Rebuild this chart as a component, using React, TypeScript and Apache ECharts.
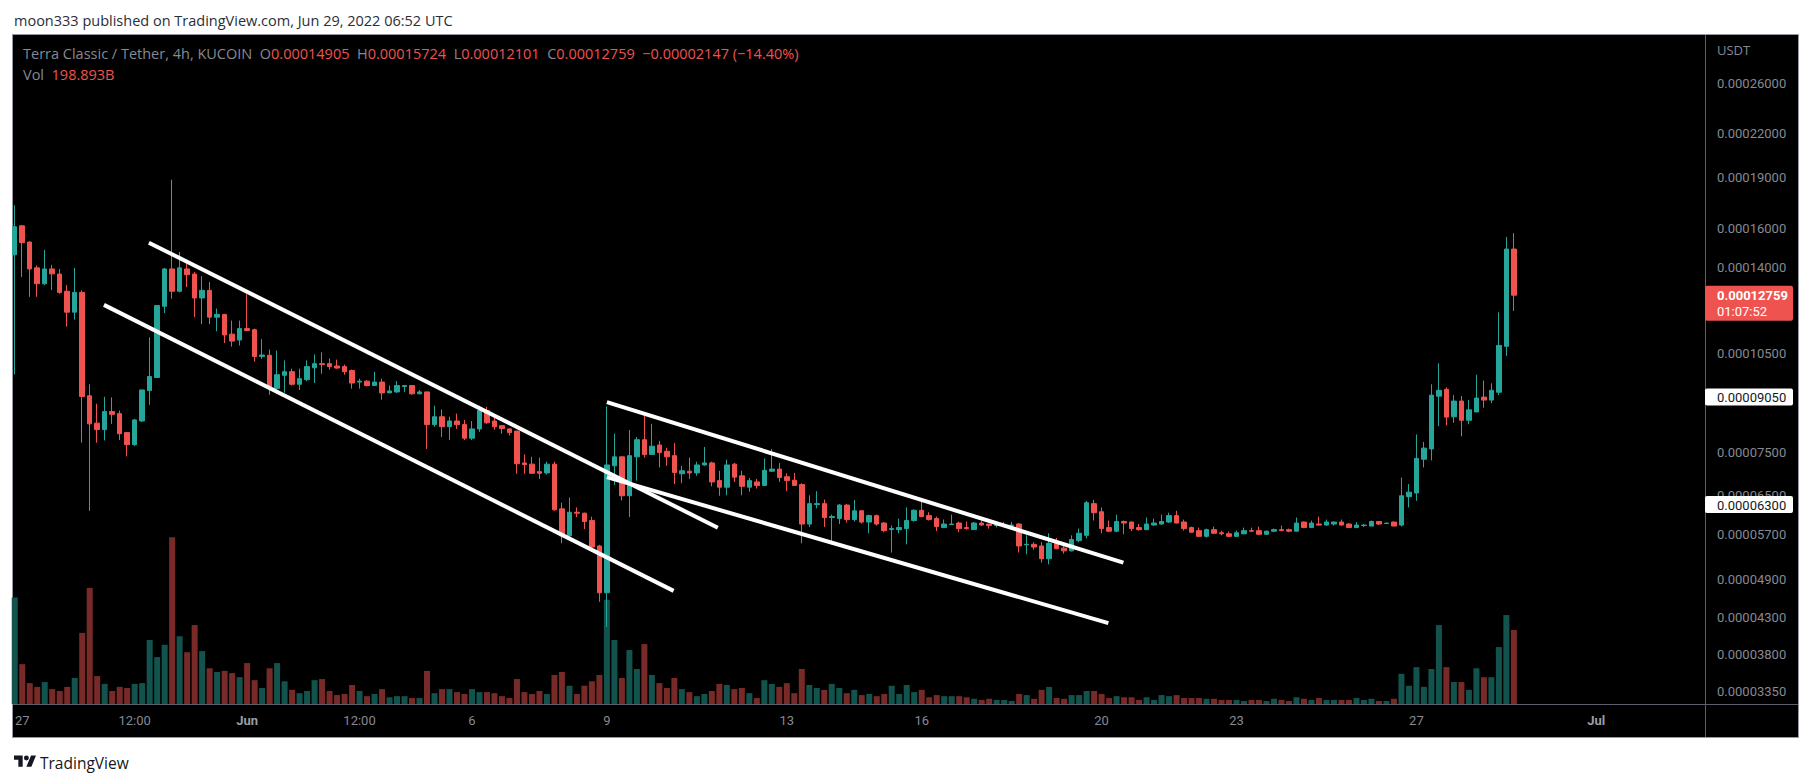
import React, { useEffect, useRef } from "react";
import * as echarts from "echarts";

// Prices are stored in units of 0.00000001 USDT (1e-8).
const PRICE_UNIT = 1e-8;

const OPEN = [
  14620, 16120, 15260, 13990, 13260, 13940, 13700, 12930, 12050, 12880,
  9090, 8290, 8110, 8620, 8560, 8030, 7710, 8350, 9250, 9670,
  12290, 13940, 12930, 13940, 13700, 12640, 12970, 11850, 11960, 11190,
  10970, 11400, 11360, 10380, 10420, 9320, 9740, 9860, 9450, 9600,
  9990, 10130, 10130, 10050, 10030, 9900, 9520, 9550, 9410, 9520,
  9180, 9210, 9380, 9410, 9150, 9210, 8250, 8470, 8190, 8350,
  8250, 7880, 8130, 8650, 8350, 8220, 8130, 8070, 7250, 7220,
  7040, 7010, 7220, 6210, 5670, 6140, 6120, 5970, 5480, 4680,
  7180, 7400, 6490, 7400, 7840, 7460, 7700, 7540, 7430, 6990,
  7050, 7010, 7200, 7250, 6830, 6680, 7220, 6940, 6680, 6800,
  6720, 7050, 7100, 6920, 6840, 6740, 5900, 6300, 6320, 6030,
  6010, 6290, 5990, 6170, 5940, 6070, 5920, 5790, 5790, 5810,
  5970, 6180, 6070, 6010, 5830, 5890, 5920, 5830, 5790, 5920,
  5900, 5870, 5870, 5870, 5900, 5500, 5510, 5480, 5250, 5530,
  5440, 5390, 5580, 5680, 6320, 6150, 5830, 5760, 5950, 5940,
  5830, 5790, 5880, 5900, 5940, 6070, 5940, 5830, 5770, 5660,
  5790, 5730, 5710, 5660, 5710, 5770, 5770, 5700, 5760, 5790,
  5790, 5760, 5940, 5830, 5900, 5880, 5900, 5940, 5900, 5830,
  5870, 5860, 5950, 5910, 5940, 5880, 6470, 6550, 7340, 7600,
  9080, 9290, 8470, 8930, 8370, 8610, 9050, 8960, 9200, 10740,
  14905,
];

const HIGH = [
  17280, 16150, 15300, 14100, 14860, 14130, 13940, 13200, 13990, 12970,
  9450, 8850, 9060, 9040, 8650, 8050, 8410, 9280, 11070, 12330,
  13990, 18830, 14760, 14390, 13800, 13600, 13340, 12200, 11980, 11710,
  11710, 12800, 11400, 11000, 10620, 10590, 10240, 9960, 9960, 10240,
  10450, 10520, 10310, 10270, 10100, 9930, 9630, 9580, 9860, 9630,
  9410, 9550, 9420, 9420, 9270, 9220, 8790, 8680, 8470, 8560,
  8380, 8350, 8790, 8760, 8440, 8230, 8150, 8080, 7460, 7400,
  7380, 7280, 7280, 6340, 6450, 6240, 6130, 6050, 5500, 8770,
  8000, 7410, 8100, 7910, 8540, 8270, 7810, 7630, 7750, 7180,
  7380, 7280, 7650, 7280, 7060, 7330, 7250, 7060, 6890, 6870,
  7360, 7600, 7250, 7000, 7010, 6770, 6500, 6590, 6410, 6090,
  6310, 6310, 6400, 6180, 6090, 6090, 5940, 5870, 6010, 6240,
  6200, 6440, 6140, 6050, 5990, 6090, 5950, 5950, 5940, 5970,
  5900, 5950, 5940, 5940, 5920, 5680, 5550, 5550, 5720, 5630,
  5480, 5680, 5810, 6380, 6400, 6240, 5970, 6090, 5970, 5950,
  5900, 6030, 6010, 6090, 6130, 6170, 5990, 5850, 5830, 5810,
  5850, 5770, 5750, 5770, 5830, 5830, 5850, 5770, 5810, 5870,
  5810, 6030, 5950, 5970, 6050, 5990, 5950, 5990, 5920, 5940,
  5900, 5970, 5960, 5920, 5950, 6900, 6750, 7980, 7780, 9450,
  10140, 9350, 9110, 9080, 8960, 9760, 9570, 9480, 12040, 15520,
  15724,
];

const LOW = [
  9770, 13570, 12690, 12690, 13200, 12980, 12820, 11480, 11750, 7760,
  6170, 7760, 7820, 8270, 7830, 7410, 7670, 8320, 8820, 9660,
  12010, 12610, 12880, 13110, 11850, 11570, 11570, 11300, 10860, 10730,
  10770, 11300, 10200, 10290, 9120, 9150, 9190, 9410, 9270, 9550,
  9490, 9790, 9930, 9960, 9760, 9310, 9310, 9380, 9400, 8970,
  9170, 9180, 9210, 9120, 9140, 7600, 8190, 7910, 7830, 8130,
  7830, 7830, 8050, 8270, 8110, 8000, 7950, 6990, 6990, 6990,
  6870, 6970, 6170, 5530, 5630, 6040, 5800, 5370, 4540, 4170,
  6730, 6390, 6040, 6830, 7380, 7450, 7140, 7180, 6750, 6770,
  6870, 6940, 7180, 6700, 6490, 6500, 6800, 6500, 6580, 6650,
  6710, 7030, 6800, 6590, 6710, 5530, 5840, 6220, 5840, 5510,
  5900, 5930, 5950, 5910, 5720, 5870, 5740, 5360, 5720, 5510,
  5950, 6040, 5970, 5760, 5820, 5880, 5740, 5790, 5790, 5870,
  5810, 5830, 5850, 5850, 5360, 5330, 5410, 5180, 5150, 5420,
  5340, 5380, 5550, 5620, 5970, 5720, 5740, 5740, 5700, 5760,
  5770, 5790, 5870, 5890, 5920, 5910, 5770, 5730, 5650, 5640,
  5710, 5680, 5650, 5650, 5700, 5740, 5690, 5690, 5740, 5760,
  5740, 5750, 5820, 5820, 5870, 5870, 5870, 5870, 5820, 5820,
  5840, 5860, 5880, 5900, 5860, 5850, 6240, 6380, 7140, 7310,
  8210, 8230, 8300, 7930, 8260, 8600, 8730, 8870, 9110, 10400,
  12101,
];

const CLOSE = [
  16070, 15230, 13940, 13260, 13940, 13710, 12880, 12050, 12880, 9070,
  8270, 8110, 8620, 8540, 8000, 7710, 8380, 9270, 9700, 12320,
  13940, 12930, 13990, 13670, 12640, 12970, 11850, 11960, 11160, 10930,
  11400, 11330, 10380, 10430, 9320, 9760, 9860, 9450, 9630, 10030,
  10130, 10100, 10030, 9980, 9860, 9490, 9550, 9410, 9520, 9180,
  9240, 9410, 9410, 9150, 9210, 8250, 8470, 8190, 8350, 8250,
  7880, 8130, 8650, 8300, 8190, 8140, 8030, 7230, 7210, 7000,
  7000, 7220, 6190, 5670, 6140, 6120, 5950, 5460, 4680, 7200,
  7400, 6490, 7430, 7840, 7460, 7670, 7510, 7400, 7020, 7060,
  7010, 7200, 7250, 6800, 6680, 7200, 6910, 6700, 6830, 6720,
  7070, 7100, 6900, 6830, 6720, 5900, 6320, 6320, 6030, 6050,
  6290, 5990, 6170, 5940, 6070, 5900, 5770, 5810, 5830, 5970,
  6180, 6050, 5990, 5850, 5900, 5900, 5810, 5810, 5920, 5880,
  5870, 5880, 5880, 5880, 5480, 5510, 5460, 5250, 5530, 5430,
  5390, 5600, 5720, 6340, 6130, 5810, 5760, 5950, 5920, 5810,
  5790, 5900, 5920, 5950, 6070, 5920, 5810, 5740, 5660, 5790,
  5720, 5710, 5660, 5730, 5770, 5760, 5700, 5760, 5790, 5770,
  5760, 5920, 5830, 5920, 5880, 5940, 5940, 5880, 5830, 5880,
  5880, 5950, 5900, 5920, 5860, 6490, 6570, 7360, 7620, 9110,
  9260, 8460, 8930, 8370, 8670, 9020, 8960, 9260, 10770, 14906,
  12759,
];

// Volume in billions of LUNC
const VOLUME_B = [
  286, 107, 56, 46, 59, 40, 35, 46, 70, 191,
  312, 75, 54, 35, 46, 43, 54, 56, 172, 126,
  159, 448, 182, 139, 212, 142, 96, 86, 89, 83,
  72, 110, 64, 43, 96, 110, 61, 38, 29, 35,
  64, 67, 35, 24, 27, 51, 35, 21, 27, 40,
  18, 21, 21, 16, 16, 89, 29, 40, 40, 32,
  27, 40, 32, 32, 29, 21, 16, 67, 32, 27,
  35, 27, 78, 86, 49, 27, 49, 61, 78, 280,
  172, 70, 145, 94, 161, 78, 56, 43, 70, 40,
  32, 21, 27, 35, 54, 51, 40, 43, 29, 16,
  64, 54, 46, 56, 29, 94, 51, 43, 38, 54,
  43, 29, 38, 24, 27, 21, 27, 49, 27, 51,
  32, 38, 18, 24, 21, 21, 21, 18, 14, 11,
  14, 11, 11, 8, 27, 24, 14, 38, 46, 16,
  14, 24, 24, 35, 35, 27, 16, 21, 18, 18,
  11, 18, 11, 24, 21, 24, 16, 16, 16, 14,
  14, 11, 11, 11, 8, 11, 11, 8, 14, 11,
  8, 18, 14, 11, 16, 11, 11, 11, 11, 16,
  11, 14, 8, 8, 14, 81, 49, 99, 46, 94,
  212, 99, 59, 59, 38, 96, 72, 72, 153, 239,
  198.893,
];

const START_UTC = Date.UTC(2022, 4, 26, 20, 0); // first 4h bar
const BAR_HOURS = 4;
const EMPTY_BARS_RIGHT = 25;

const TICK_LABELS: [string, string][] = [
  ["2022-05-27 00:00", "27"],
  ["2022-05-29 12:00", "12:00"],
  ["2022-06-01 00:00", "Jun"],
  ["2022-06-03 12:00", "12:00"],
  ["2022-06-06 00:00", "6"],
  ["2022-06-09 00:00", "9"],
  ["2022-06-13 00:00", "13"],
  ["2022-06-16 00:00", "16"],
  ["2022-06-20 00:00", "20"],
  ["2022-06-23 00:00", "23"],
  ["2022-06-27 00:00", "27"],
  ["2022-07-01 00:00", "Jul"],
];
const MONTH_LABELS = ["Jun", "Jul"];

const PRICE_TICKS = [
  0.0000335, 0.000038, 0.000043, 0.000049, 0.000057, 0.000065, 0.000075,
  0.000105, 0.00014, 0.00016, 0.00019, 0.00022, 0.00026,
];
const PRICE_MIN = 0.00003217;
const PRICE_MAX = 0.0003077;
const VOLUME_AXIS_MAX = 1800;

const LEVELS = [0.0000905, 0.000063];

// Trend lines: [bar index, price] -> [bar index, price]
const TRENDLINES: [number, number, number, number][] = [
  [17.9, 0.0001523, 93.8, 0.00005827],
  [11.9, 0.0001235, 87.9, 0.0000471],
  [79.0, 0.000089, 147.9, 0.0000518],
  [79.0, 0.0000691, 145.9, 0.00004225],
];

const TITLE = "moon333 published on TradingView.com, Jun 29, 2022 06:52 UTC";
const SYMBOL = "Terra Classic / Tether, 4h, KUCOIN";
const COUNTDOWN = "01:07:52";
const VOL_TEXT = "198.893B";

const UP = "#26a69a";
const DOWN = "#ef5350";
const VOL_UP = "#13534d";
const VOL_DOWN = "#782a28";
const GRAY = "#868993";
const FONT = "Roboto, 'Liberation Sans', sans-serif";
const HFONT = "'Open Sans', Roboto, sans-serif";

const LOGO_PATH =
  "M14 22H7V11H0V4h14v18zM28 22h-8l7.5-18h8L28 22zM24 8a4 4 0 1 1-8 0a4 4 0 1 1 8 0z";
echarts.graphic.registerShape("tvLogo", echarts.graphic.extendPath(LOGO_PATH, {}));

const pad = (n: number) => String(n).padStart(2, "0");
const CATEGORIES = Array.from({ length: OPEN.length + EMPTY_BARS_RIGHT }, (_, i) => {
  const d = new Date(START_UTC + i * BAR_HOURS * 3600 * 1000);
  return `${d.getUTCFullYear()}-${pad(d.getUTCMonth() + 1)}-${pad(d.getUTCDate())} ${pad(
    d.getUTCHours()
  )}:00`;
});
const LABEL_MAP = new Map(TICK_LABELS);

const fmtP = (v: number) => v.toFixed(8);

function buildOption(): any {
  return {
    animation: false,
    backgroundColor: "#ffffff",
    textStyle: { fontFamily: FONT },
    grid: { left: 11, top: 34, width: 1694, height: 670, containLabel: false },
    xAxis: [
      {
        type: "category",
        data: CATEGORIES,
        boundaryGap: true,
        axisLine: { show: false },
        axisTick: { show: false },
        splitLine: { show: false },
        axisLabel: {
          interval: (_i: number, v: string) => LABEL_MAP.has(v),
          formatter: (v: string) => {
            const t = LABEL_MAP.get(v) || "";
            return MONTH_LABELS.includes(t) ? `{m|${t}}` : t;
          },
          color: GRAY,
          fontSize: 13,
          fontFamily: FONT,
          margin: 10,
          rich: { m: { fontWeight: "bold", color: "#9a9da6", fontSize: 13, fontFamily: FONT } },
        },
      },
      { type: "value", min: -0.5, max: CATEGORIES.length - 0.5, show: false },
    ],
    yAxis: [
      {
        type: "log",
        logBase: 10,
        position: "right",
        min: PRICE_MIN,
        max: PRICE_MAX,
        axisLine: { show: false },
        axisTick: { show: false },
        splitLine: { show: false },
        axisLabel: {
          customValues: PRICE_TICKS,
          formatter: (v: number) => fmtP(Number(v)),
          color: GRAY,
          fontSize: 13,
          fontFamily: FONT,
          margin: 12,
        },
      },
      { type: "value", min: 0, max: VOLUME_AXIS_MAX, show: false },
    ],
    series: [
      {
        type: "bar",
        name: "Vol",
        xAxisIndex: 0,
        yAxisIndex: 1,
        barWidth: 6,
        silent: true,
        data: VOLUME_B.map((v, i) => ({
          value: v,
          itemStyle: { color: CLOSE[i] >= OPEN[i] ? VOL_UP : VOL_DOWN },
        })),
      },
      {
        type: "candlestick",
        xAxisIndex: 0,
        yAxisIndex: 0,
        barWidth: 5,
        clip: false,
        silent: true,
        data: OPEN.map((o, i) => [
          o * PRICE_UNIT,
          CLOSE[i] * PRICE_UNIT,
          LOW[i] * PRICE_UNIT,
          HIGH[i] * PRICE_UNIT,
        ]),
        itemStyle: {
          color: UP,
          color0: DOWN,
          borderColor: UP,
          borderColor0: DOWN,
          borderWidth: 1,
        },
        markLine: {
          silent: true,
          symbol: ["none", "none"],
          label: { show: false },
          lineStyle: { color: "#ffffff", width: 3, type: [15, 18], opacity: 1 },
          data: LEVELS.map((v) => ({ yAxis: v })),
        },
      },
      ...TRENDLINES.map((t) => ({
        type: "line",
        xAxisIndex: 1,
        yAxisIndex: 0,
        symbol: "none",
        showSymbol: false,
        silent: true,
        lineStyle: { color: "#ffffff", width: 4, cap: "butt" },
        data: [
          [t[0], t[1]],
          [t[2], t[3]],
        ],
      })),
    ],
  };
}

function buildGraphics(yOf: (p: number) => number): any[] {
  const last = OPEN.length - 1;
  const o = OPEN[last] * PRICE_UNIT;
  const h = HIGH[last] * PRICE_UNIT;
  const l = LOW[last] * PRICE_UNIT;
  const c = CLOSE[last] * PRICE_UNIT;
  const prev = CLOSE[last - 1] * PRICE_UNIT;
  const chg = c - prev;
  const pct = (chg / prev) * 100;
  const sign = chg < 0 ? "\u2212" : "+";
  const chgText = `${sign}${fmtP(Math.abs(chg))} (${sign}${Math.abs(pct).toFixed(2)}%)`;
  const HS = 14.5;
  const rich = {
    g: { fill: GRAY, fontSize: HS, fontFamily: HFONT },
    r: { fill: DOWN, fontSize: HS, fontFamily: HFONT },
  };

  const els: any[] = [
    {
      type: "rect",
      z: -10,
      shape: { x: 12.5, y: 34.5, width: 1786, height: 703 },
      style: { fill: "#000000", stroke: "#9598a1", lineWidth: 1 },
    },
    {
      type: "line",
      z: 50,
      shape: { x1: 1705.5, y1: 35, x2: 1705.5, y2: 737 },
      style: { stroke: "#5d606b", lineWidth: 1 },
    },
    {
      type: "line",
      z: 50,
      shape: { x1: 13, y1: 704.5, x2: 1798, y2: 704.5 },
      style: { stroke: "#5d606b", lineWidth: 1 },
    },
    {
      type: "text",
      z: 50,
      x: 14,
      y: 20,
      style: { text: TITLE, fill: "#2a2e39", font: `14.5px ${HFONT}`, verticalAlign: "middle" },
    },
    {
      type: "text",
      z: 50,
      x: 23,
      y: 53,
      style: {
        text:
          `{g|${SYMBOL}}  {g|O}{r|${fmtP(o)}}  {g|H}{r|${fmtP(h)}}  {g|L}{r|${fmtP(l)}}  ` +
          `{g|C}{r|${fmtP(c)}}  {r|${chgText}}`,
        font: `${HS}px ${HFONT}`,
        verticalAlign: "middle",
        rich,
      },
    },
    {
      type: "text",
      z: 50,
      x: 23,
      y: 74,
      style: {
        text: `{g|Vol}  {r|${VOL_TEXT}}`,
        font: `${HS}px ${HFONT}`,
        verticalAlign: "middle",
        rich,
      },
    },
    {
      type: "text",
      z: 50,
      x: 1717,
      y: 50,
      style: { text: "USDT", fill: GRAY, font: `13px ${HFONT}`, verticalAlign: "middle" },
    },
    {
      type: "tvLogo",
      z: 50,
      x: 14,
      y: 753,
      scaleX: 0.62,
      scaleY: 0.62,
      style: { fill: "#131722" },
    },
    {
      type: "text",
      z: 50,
      x: 40,
      y: 763,
      style: { text: "TradingView", fill: "#131722", font: `15.5px ${HFONT}`, verticalAlign: "middle" },
    },
  ];

  LEVELS.forEach((p) => {
    const y = yOf(p);
    els.push({
      type: "rect",
      z: 60,
      shape: { x: 1705, y: y - 8.5, width: 88, height: 17, r: 2 },
      style: { fill: "#ffffff" },
    });
    els.push({
      type: "text",
      z: 61,
      x: 1717,
      y: y + 0.5,
      style: { text: fmtP(p), fill: "#131722", font: `13px ${FONT}`, verticalAlign: "middle" },
    });
  });

  const yc = yOf(c);
  els.push({
    type: "rect",
    z: 60,
    shape: { x: 1705, y: yc - 9.5, width: 88, height: 35, r: 2 },
    style: { fill: DOWN },
  });
  els.push({
    type: "text",
    z: 61,
    x: 1717,
    y: yc,
    style: { text: fmtP(c), fill: "#ffffff", font: `bold 13px ${FONT}`, verticalAlign: "middle" },
  });
  els.push({
    type: "text",
    z: 61,
    x: 1717,
    y: yc + 16,
    style: { text: COUNTDOWN, fill: "#ffffff", font: `13px ${FONT}`, verticalAlign: "middle" },
  });
  return els;
}

export default function App() {
  const ref = useRef<HTMLDivElement>(null);
  useEffect(() => {
    if (!ref.current) return;
    const chart = echarts.init(ref.current, null, { renderer: "svg" });
    chart.setOption(buildOption());
    const yOf = (p: number) => chart.convertToPixel({ yAxisIndex: 0 }, p) as number;
    chart.setOption({ graphic: buildGraphics(yOf) });
    return () => chart.dispose();
  }, []);
  return (
    <div
      ref={ref}
      style={{ position: "fixed", left: 0, top: 0, width: 1813, height: 783, background: "#fff" }}
    />
  );
}
